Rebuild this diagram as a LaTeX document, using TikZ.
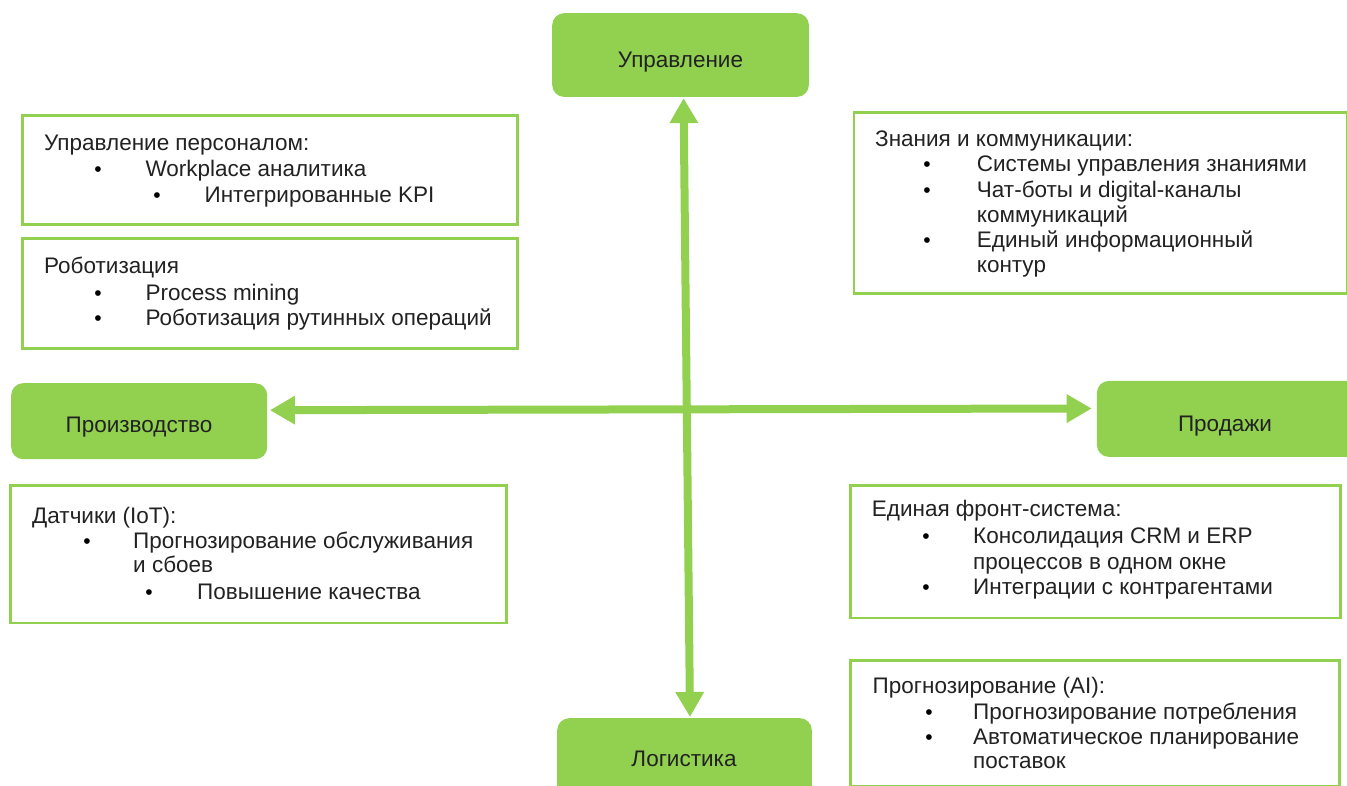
\documentclass[tikz,border=0pt]{standalone}
\usepackage{fontspec}
\setmainfont{Liberation Sans}
\usetikzlibrary{arrows.meta,calc}
\definecolor{lgreen}{HTML}{92D050}
\definecolor{txt}{HTML}{222222}
\begin{document}
\begin{tikzpicture}[x=1pt,y=-1pt,
  catbox/.style={draw=none, fill=lgreen, rounded corners=12pt, anchor=north west, inner sep=0pt},
  infobox/.style={draw=lgreen, line width=2.6pt, fill=white, anchor=north west, inner sep=0pt},
  lbl/.style={anchor=base west, inner sep=0pt, text=txt, font=\fontsize{22.5}{26}\selectfont},
  clbl/.style={anchor=base, inner sep=0pt, text=txt, font=\fontsize{22.5}{26}\selectfont},
  bul/.style={anchor=base, inner sep=0pt, text=black, font=\fontsize{21}{25}\selectfont},
  axisarrow/.style={draw=lgreen, line width=8pt,
     {Triangle[length=25pt,width=27pt]}-{Triangle[length=25pt,width=27pt]}}
]
\useasboundingbox (0,0) rectangle (1347,786);
\clip (0,0) rectangle (1347,786);

% category boxes
\node[catbox, minimum width=256.7pt, minimum height=83.7pt] (upr) at (552,13) {};
\node[clbl] (uprt) at (680.5,68) {Управление};

\node[catbox, minimum width=256pt, minimum height=76pt] (proizv) at (11,383) {};
\node[clbl] (proizvt) at (139,432.5) {Производство};

\node[catbox, minimum width=265pt, minimum height=76pt] (prod) at (1096.7,380.7) {};
\node[clbl] (prodt) at (1225,431.7) {Продажи};

\node[catbox, minimum width=254.6pt, minimum height=90pt] (log) at (557,718) {};
\node[clbl] (logt) at (684,766.7) {Логистика};

% info boxes
\node[infobox, minimum width=495pt, minimum height=109pt] (boxA) at (21,114.5) {};
\node[lbl] (a1) at (44,150.5) {Управление персоналом:};
\node[bul] (a2b) at (98,177) {•};
\node[lbl] (a2) at (145.3,177) {Workplace аналитика};
\node[bul] (a3b) at (157,203) {•};
\node[lbl] (a3) at (204.4,203) {Интегрированные KPI};

\node[infobox, minimum width=495pt, minimum height=110pt] (boxB) at (21,237) {};
\node[lbl] (b1) at (44,274) {Роботизация};
\node[bul] (b2b) at (98,301) {•};
\node[lbl] (b2) at (145.3,301) {Process mining};
\node[bul] (b3b) at (98,326) {•};
\node[lbl] (b3) at (145.3,326) {Роботизация рутинных операций};

\node[infobox, minimum width=493pt, minimum height=181pt] (boxC) at (852.7,111) {};
\node[lbl] (c1) at (875,146.5) {Знания и коммуникации:};
\node[bul] (c2b) at (927,172) {•};
\node[lbl] (c2) at (976.7,172) {Системы управления знаниями};
\node[bul] (c3b) at (927,197.5) {•};
\node[lbl] (c3) at (976.7,197.5) {Чат-боты и digital-каналы};
\node[lbl] (c4) at (976.7,223) {коммуникаций};
\node[bul] (c5b) at (927,248) {•};
\node[lbl] (c5) at (976.7,248) {Единый информационный};
\node[lbl] (c6) at (976.7,273) {контур};

\node[infobox, minimum width=495.7pt, minimum height=137.7pt] (boxD) at (9.3,484) {};
\node[lbl] (d1) at (32,523.5) {Датчики (IoT):};
\node[bul] (d2b) at (87,548.5) {•};
\node[lbl] (d2) at (133,548.5) {Прогнозирование обслуживания};
\node[lbl] (d3) at (133,572) {и сбоев};
\node[bul] (d4b) at (149,599) {•};
\node[lbl] (d4) at (197,599) {Повышение качества};

\node[infobox, minimum width=490pt, minimum height=132.7pt] (boxE) at (849,484) {};
\node[lbl] (e1) at (871.7,516.7) {Единая фронт-система:};
\node[bul] (e2b) at (926,543) {•};
\node[lbl] (e2) at (973,543) {Консолидация CRM и ERP};
\node[lbl] (e3) at (973,569) {процессов в одном окне};
\node[bul] (e4b) at (926,594) {•};
\node[lbl] (e4) at (973,594) {Интеграции с контрагентами};

\node[infobox, minimum width=489pt, minimum height=125.5pt] (boxF) at (849,659) {};
\node[lbl] (f1) at (872.5,693) {Прогнозирование (AI):};
\node[bul] (f2b) at (929,719) {•};
\node[lbl] (f2) at (973,719) {Прогнозирование потребления};
\node[bul] (f3b) at (929,744) {•};
\node[lbl] (f3) at (973,744) {Автоматическое планирование};
\node[lbl] (f4) at (973,768) {поставок};

% axes
\coordinate (vtop) at ($(upr.south)+(3,1)$);
\coordinate (vbot) at ($(log.north)+(5.5,-1)$);
\coordinate (hleft) at ($(proizv.east)+(2.5,-11)$);
\coordinate (hright) at ($(prod.west)+(-5,-10.4)$);
\draw[axisarrow] (vtop) -- (vbot);
\draw[axisarrow] (hleft) -- (hright);
\end{tikzpicture}
\end{document}
